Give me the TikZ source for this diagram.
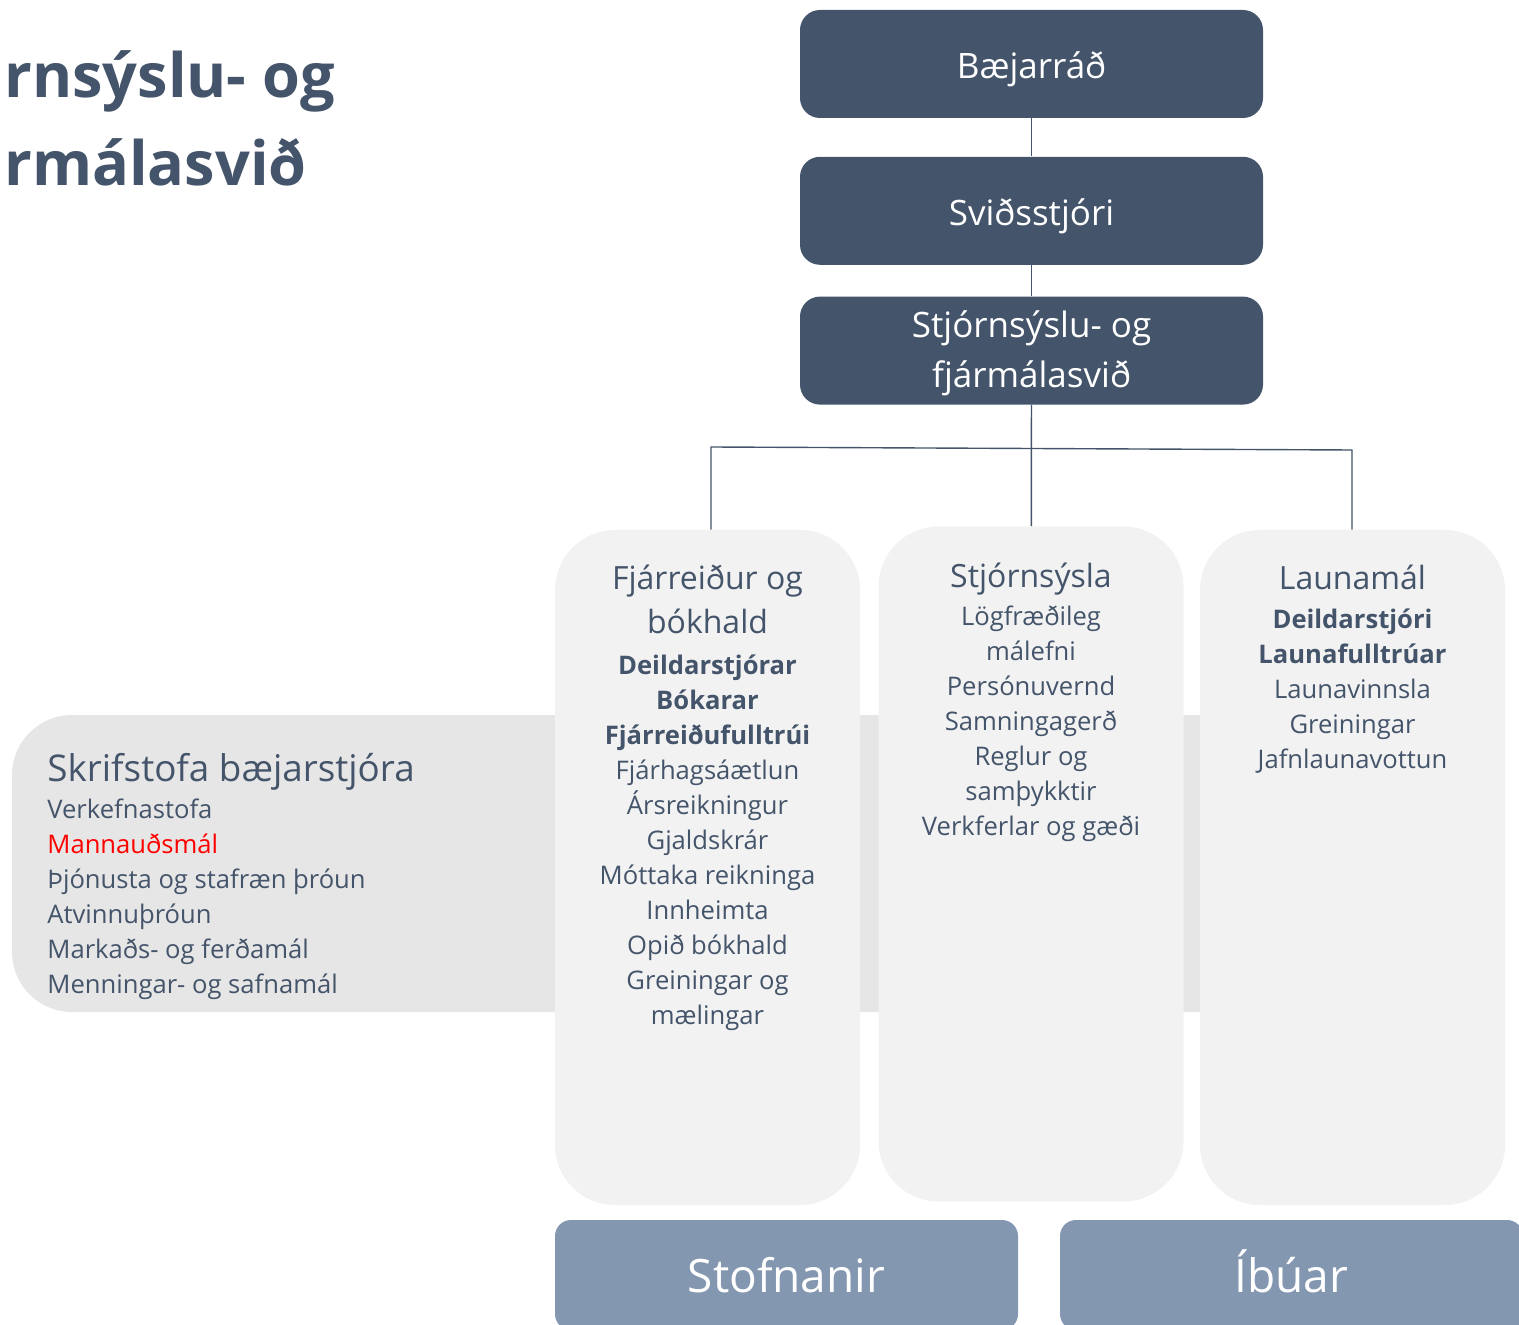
\documentclass[tikz,border=0pt]{standalone}
\usepackage{fontspec}
\setmainfont{Open Sans}
\usetikzlibrary{positioning}
\definecolor{slate}{HTML}{44546A}
\definecolor{panel}{HTML}{F2F2F2}
\definecolor{office}{HTML}{E7E6E6}
\definecolor{steel}{HTML}{8497B0}

\begin{document}
\begin{tikzpicture}[x=0.5pt, y=-0.5pt,
    head/.style = {fill=slate, rounded corners=10pt, minimum width=231.5pt, minimum height=54pt, inner sep=0pt, text height=15pt, text depth=0pt, text=white, align=center, font=\fontsize{17.5}{25}\selectfont},
    column/.style = {fill=panel, rounded corners=30pt, minimum width=152.5pt, minimum height=337.5pt, inner sep=0pt},
    colhead/.style = {anchor=north, inner sep=0pt, text=slate, align=center, font=\fontsize{16}{22}\selectfont},
    colitems/.style = {anchor=north, inner sep=0pt, text=slate, align=center, font=\fontsize{12.8}{17.5}\selectfont},
    outer/.style = {fill=steel, rounded corners=8pt, minimum width=231.5pt, minimum height=55pt, inner sep=0pt, text height=17pt, text depth=0pt, text=white, font=\fontsize{23}{28}\selectfont},
    link/.style = {draw=slate, line width=0.7pt}]

    \useasboundingbox (0,0) rectangle (1519,1325);

    % title, cut off at the left edge
    \node[anchor=north west, inner sep=0pt, text=slate, align=left, font=\bfseries\fontsize{30.6}{44}\selectfont] (title) at (4,50) {rnsýslu- og\\rmálasvið};

    % office behind the columns
    \node[fill=office, rounded corners=30pt, minimum width=644pt, minimum height=148.5pt] (office) at (656,863.5) {};
    \node[anchor=north west, inner sep=0pt, text=slate, font=\fontsize{18.4}{25}\selectfont] (officehead) at (47,753) {Skrifstofa bæjarstjóra};
    \node[anchor=north west, inner sep=0pt, text=slate, align=left, font=\fontsize{12.8}{17.5}\selectfont] (officeitems) at (47,799) {Verkefnastofa\\\textcolor{red}{Mannauðsmál}\\Þjónusta og stafræn þróun\\Atvinnuþróun\\Markaðs- og ferðamál\\Menningar- og safnamál};

    % chain of command
    \node[head] (baer) at (1031.5,64) {Bæjarráð};
    \node[head] (svid) [below=19pt of baer] {Sviðsstjóri};
    \node[head, text height=37pt] (stj) [below=15.5pt of svid] {Stjórnsýslu- og\\fjármálasvið};

    % columns
    \node[column] (fj) at (707.5,867.5) {};
    \node[column] (adm) at (1031,864) {};
    \node[column] (laun) at (1352.5,867.5) {};

    \node[colhead] (fjhead) at (707.5,565) {Fjárreiður og\\bókhald};
    \node[colitems] (fjitems) at (707.5,654) {\textbf{Deildarstjórar}\\\textbf{Bókarar}\\\textbf{Fjárreiðufulltrúi}\\Fjárhagsáætlun\\Ársreikningur\\Gjaldskrár\\Móttaka reikninga\\Innheimta\\Opið bókhald\\Greiningar og\\mælingar};

    \node[colhead] (admhead) at (1031,563) {Stjórnsýsla};
    \node[colitems] (admitems) at (1031,605) {Lögfræðileg\\málefni\\Persónuvernd\\Samningagerð\\Reglur og\\samþykktir\\Verkferlar og gæði};

    \node[colhead] (launhead) at (1352.5,565) {Launamál};
    \node[colitems] (launitems) at (1352.5,608) {\textbf{Deildarstjóri}\\\textbf{Launafulltrúar}\\Launavinnsla\\Greiningar\\Jafnlaunavottun};

    % outside the division
    \node[outer] (stofn) at (786.5,1275) {Stofnanir};
    \node[outer] (ibuar) at (1291.5,1275) {Íbúar};

    % connectors
    \coordinate (busL) at (711,447);
    \coordinate (busR) at (1352,450);
    \draw[link] (baer) -- (svid);
    \draw[link] (svid) -- (stj);
    \draw[link] (stj) -- (adm);
    \draw[link] (fj.north -| busL) -- (busL) -- (busR) -- (laun.north -| busR);
\end{tikzpicture}
\end{document}
